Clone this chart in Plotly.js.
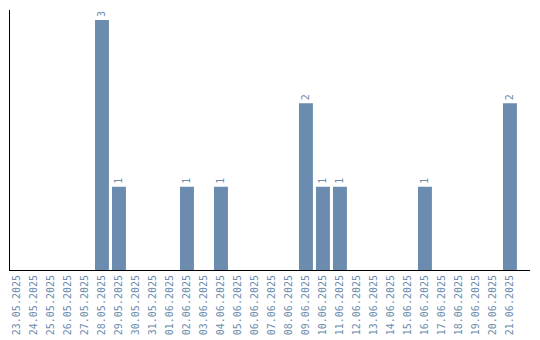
<!DOCTYPE html>
<html>
<head>
<meta charset="utf-8">
<script src="https://cdn.plot.ly/plotly-3.0.1.min.js"></script>
<style>html,body{margin:0;padding:0;background:#fff;}#chart{width:540px;height:340px;}</style>
</head>
<body>
<div id="chart"></div>
<script>
const dates = ["23.05.2025","24.05.2025","25.05.2025","26.05.2025","27.05.2025","28.05.2025","29.05.2025","30.05.2025","31.05.2025","01.06.2025","02.06.2025","03.06.2025","04.06.2025","05.06.2025","06.06.2025","07.06.2025","08.06.2025","09.06.2025","10.06.2025","11.06.2025","12.06.2025","13.06.2025","14.06.2025","15.06.2025","16.06.2025","17.06.2025","18.06.2025","19.06.2025","20.06.2025","21.06.2025"];
const counts = [0,0,0,0,0,3,1,0,0,0,1,0,1,0,0,0,0,2,1,1,0,0,0,0,1,0,0,0,0,2];
const labels = counts.map(v => v > 0 ? String(v) : "");

const color = "#6b8cae";
const trace = {
  type: "bar",
  x: dates,
  y: counts,
  text: labels,
  textposition: "outside",
  textangle: -90,
  cliponaxis: false,
  textfont: {family: "DejaVu Sans Mono", size: 10, color: color},
  marker: {color: color},
  hoverinfo: "none"
};
const layout = {
  width: 540, height: 340,
  margin: {l: 10, r: 10, t: 10, b: 70},
  paper_bgcolor: "#fff", plot_bgcolor: "#fff",
  bargap: 0.18,
  showlegend: false,
  xaxis: {
    type: "category",
    range: [-0.41, 30.18],
    showline: true, linecolor: "#000", linewidth: 1,
    showgrid: false, zeroline: false, ticks: "",
    tickangle: -90,
    tickfont: {family: "DejaVu Sans Mono", size: 10, color: color},
    automargin: false
  },
  yaxis: {
    range: [0, 3.12],
    showline: true, linecolor: "#000", linewidth: 1,
    showgrid: false, zeroline: false, ticks: "", showticklabels: false
  }
};
Plotly.newPlot("chart", [trace], layout, {staticPlot: true, displayModeBar: false});
</script>
</body>
</html>
